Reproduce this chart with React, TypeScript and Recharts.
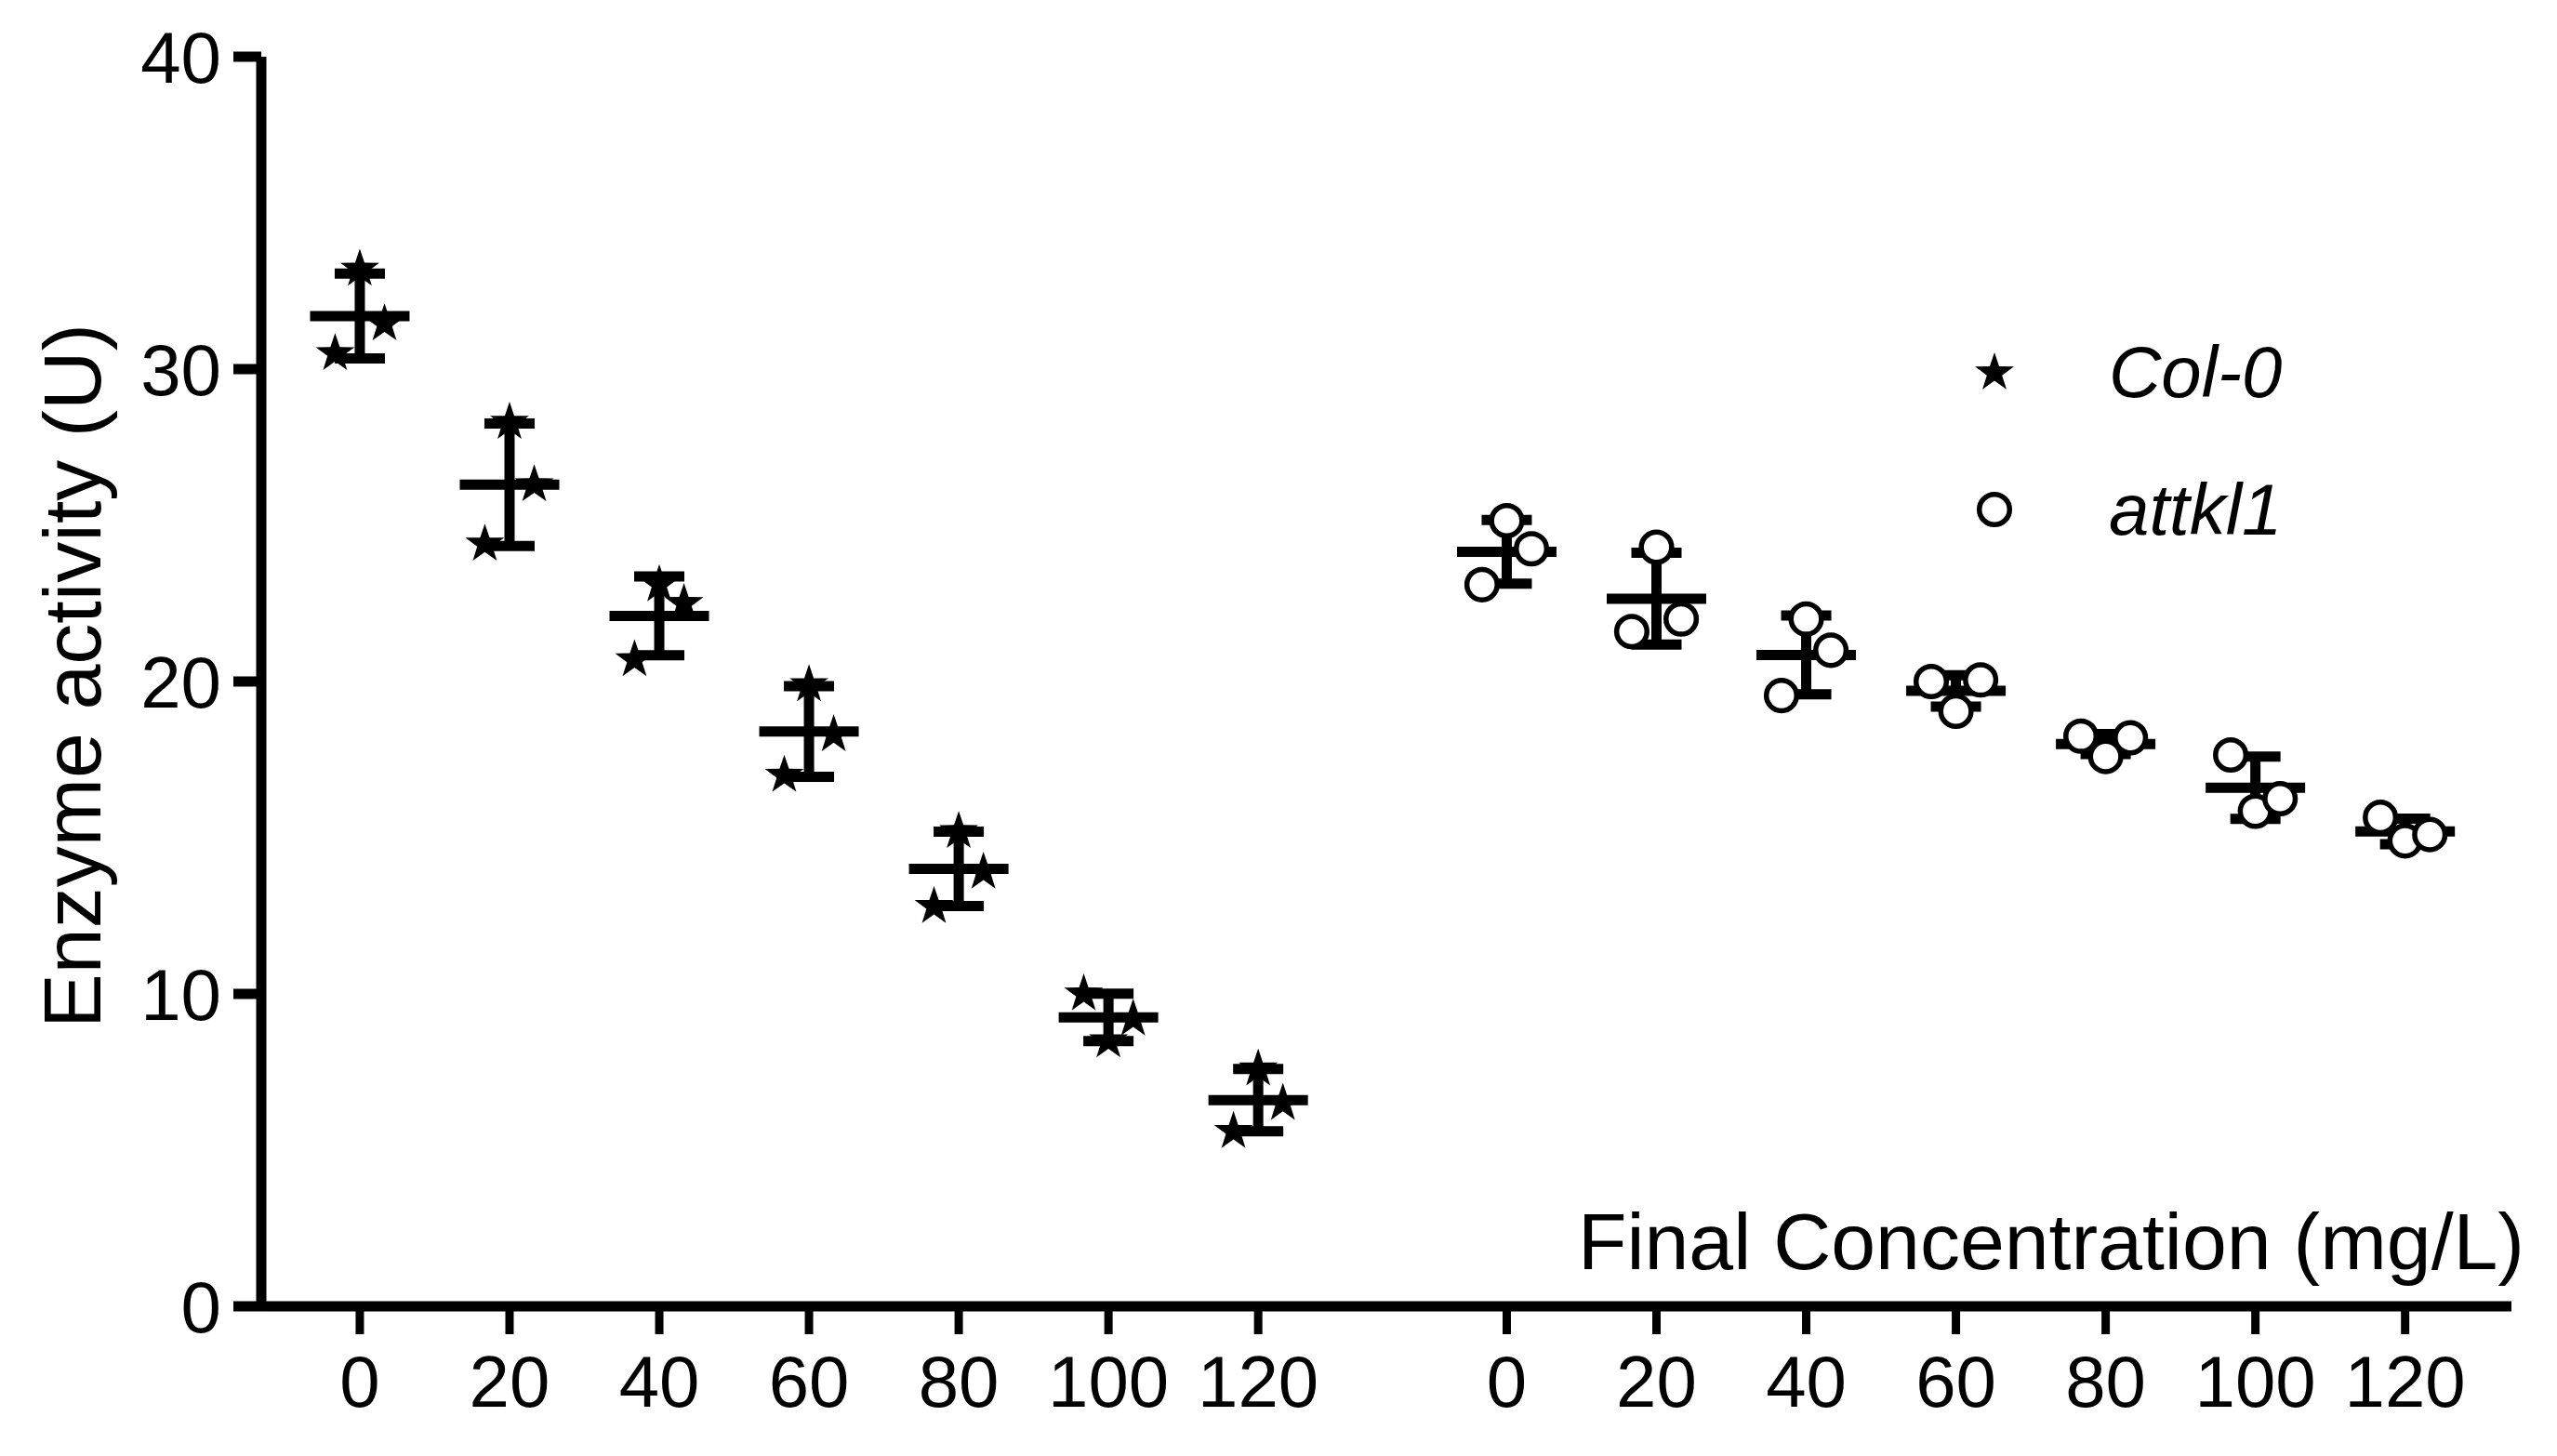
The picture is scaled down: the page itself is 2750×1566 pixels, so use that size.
import React from 'react';
import { ScatterChart, Scatter, XAxis, YAxis, ErrorBar, Legend, Label } from 'recharts';

// ---------- data ----------
const DOSES = ['0', '20', '40', '60', '80', '100', '120'];
const SERIES_NAMES = ['Col-0', 'attkl1'];
const Y_TICKS = [0, 10, 20, 30, 40];

// Col-0 replicates (centre / right / left point of each dot group)
const COL0_CENTER = [33.2, 28.3, 23.1, 19.9, 15.2, 8.5, 7.6];
const COL0_RIGHT = [31.45, 26.3, 22.5, 18.3, 13.9, 9.2, 6.5];
const COL0_LEFT = [30.5, 24.4, 20.7, 17.0, 12.8, 10.0, 5.6];
const COL0_MEAN = [31.7, 26.3, 22.1, 18.4, 14.0, 9.25, 6.6];
const COL0_SD = [1.36, 1.96, 1.26, 1.45, 1.19, 0.76, 1.0];

// attkl1 replicates
const ATTKL1_CENTER = [25.15, 24.3, 22.0, 19.05, 17.6, 15.85, 14.9];
const ATTKL1_RIGHT = [24.25, 22.0, 21.0, 20.05, 18.2, 16.25, 15.1];
const ATTKL1_LEFT = [23.1, 21.6, 19.55, 20.0, 18.25, 17.65, 15.65];
const ATTKL1_MEAN = [24.15, 22.65, 20.85, 19.7, 18.0, 16.6, 15.2];
const ATTKL1_SD = [1.02, 1.47, 1.26, 0.5, 0.32, 1.0, 0.41];

// ---------- layout constants ----------
const GROUP2_START = 7.66; // category position of the second group's first dose
const JITTER = 0.165; // horizontal spread of replicate dots (category units)
const X_DOMAIN = [-0.658, 14.37];
const FONT = '"Liberation Sans", Arial, Helvetica, sans-serif';

const POS1 = DOSES.map((_, i) => i);
const POS2 = DOSES.map((_, i) => GROUP2_START + i);
const X_TICKS = [...POS1, ...POS2];

const pointsOf = (pos: number[], c: number[], r: number[], l: number[]) =>
  pos.flatMap((p, i) => [
    { x: p, y: c[i] },
    { x: p + JITTER, y: r[i] },
    { x: p - JITTER, y: l[i] },
  ]);
const summaryOf = (pos: number[], m: number[], sd: number[]) =>
  pos.map((p, i) => ({ x: p, y: m[i], err: sd[i] }));

const col0Points = pointsOf(POS1, COL0_CENTER, COL0_RIGHT, COL0_LEFT);
const attkl1Points = pointsOf(POS2, ATTKL1_CENTER, ATTKL1_RIGHT, ATTKL1_LEFT);
const col0Summary = summaryOf(POS1, COL0_MEAN, COL0_SD);
const attkl1Summary = summaryOf(POS2, ATTKL1_MEAN, ATTKL1_SD);

const tickLabel = (v: number) => {
  const idx = X_TICKS.findIndex((t) => Math.abs(t - v) < 1e-6);
  return idx >= 0 ? DOSES[idx % DOSES.length] : '';
};

// ---------- shapes ----------
const starPath = (cx: number, cy: number, R: number, r: number) => {
  let d = '';
  for (let k = 0; k < 10; k++) {
    const rad = k % 2 === 0 ? R : r;
    const a = -Math.PI / 2 + (k * Math.PI) / 5;
    d += (k === 0 ? 'M' : 'L') + (cx + rad * Math.cos(a)).toFixed(2) + ',' + (cy + rad * Math.sin(a)).toFixed(2);
  }
  return d + 'Z';
};

const StarShape = (props: any) => {
  const { cx, cy } = props;
  if (cx == null || cy == null) return null;
  return <path d={starPath(cx, cy, 22, 8.6)} fill="#000" stroke="none" />;
};

const CircleShape = (props: any) => {
  const { cx, cy } = props;
  if (cx == null || cy == null) return null;
  return <circle cx={cx} cy={cy} r={16.3} fill="#fff" stroke="#000" strokeWidth={5.5} />;
};

const MeanShape = (props: any) => {
  const { cx, cy } = props;
  if (cx == null || cy == null) return null;
  return <line x1={cx - 53.5} x2={cx + 53.5} y1={cy} y2={cy} stroke="#000" strokeWidth={11} />;
};

const renderLegend = () => (
  <div style={{ fontFamily: FONT, fontSize: 78, fontStyle: 'italic', color: '#000' }}>
    {SERIES_NAMES.map((name, i) => (
      <div key={name} style={{ display: 'flex', alignItems: 'center', height: 148 }}>
        <svg width={60} height={60} style={{ display: 'block' }}>
          {i === 0 ? (
            <path d={starPath(30, 31, 22, 8.6)} fill="#000" />
          ) : (
            <circle cx={30} cy={30} r={16.3} fill="#fff" stroke="#000" strokeWidth={5.5} />
          )}
        </svg>
        <span style={{ marginLeft: 93, lineHeight: 'normal' }}>{name}</span>
      </div>
    ))}
  </div>
);

const YLabel = (props: any) => {
  const vb = props.viewBox || { x: 81, y: 61, width: 200, height: 1344 };
  const x = vb.x + 27;
  const y = vb.y + vb.height / 2 - 6;
  return (
    <text
      x={x}
      y={y}
      transform={`rotate(-90, ${x}, ${y})`}
      textAnchor="middle"
      fontFamily={FONT}
      fontSize={88}
      fill="#000"
    >
      Enzyme activity (U)
    </text>
  );
};

const XLabel = (props: any) => {
  const vb = props.viewBox || { x: 281, y: 1405, width: 2420, height: 150 };
  return (
    <text
      x={vb.x + vb.width + 14}
      y={vb.y - 40}
      textAnchor="end"
      fontFamily={FONT}
      fontSize={86}
      fill="#000"
    >
      Final Concentration (mg/L)
    </text>
  );
};

export default function App() {
  return (
    <div style={{ position: 'absolute', left: 0, top: 0, background: '#fff' }}>
      <ScatterChart
        width={2750}
        height={1566}
        margin={{ top: 61, right: 49, bottom: 11, left: 81 }}
      >
        <XAxis
          type="number"
          dataKey="x"
          domain={X_DOMAIN}
          allowDataOverflow
          ticks={X_TICKS}
          interval={0}
          tickFormatter={tickLabel}
          height={150}
          tickSize={30}
          tickMargin={23}
          axisLine={{ stroke: '#000', strokeWidth: 11 }}
          tickLine={{ stroke: '#000', strokeWidth: 9 }}
          tick={{ fill: '#000', fontSize: 78, fontFamily: FONT }}
        >
          <Label content={XLabel} />
        </XAxis>
        <YAxis
          type="number"
          dataKey="y"
          domain={[0, 40]}
          allowDataOverflow
          ticks={Y_TICKS}
          interval={0}
          width={200}
          tickSize={30}
          tickMargin={13}
          axisLine={{ stroke: '#000', strokeWidth: 11 }}
          tickLine={{ stroke: '#000', strokeWidth: 11 }}
          tick={{ fill: '#000', fontSize: 78, fontFamily: FONT }}
        >
          <Label content={YLabel} />
        </YAxis>
        <Legend
          content={renderLegend}
          layout="horizontal"
          align="center"
          verticalAlign="middle"
          wrapperStyle={{ left: 2115, top: 326, width: 420 }}
        />
        <Scatter
          name="Col-0 mean"
          data={col0Summary}
          shape={MeanShape}
          isAnimationActive={false}
          legendType="none"
        >
          <ErrorBar dataKey="err" direction="y" width={27} stroke="#000" strokeWidth={11} isAnimationActive={false} />
        </Scatter>
        <Scatter
          name="attkl1 mean"
          data={attkl1Summary}
          shape={MeanShape}
          isAnimationActive={false}
          legendType="none"
        >
          <ErrorBar dataKey="err" direction="y" width={27} stroke="#000" strokeWidth={11} isAnimationActive={false} />
        </Scatter>
        <Scatter name="Col-0" data={col0Points} shape={StarShape} isAnimationActive={false} />
        <Scatter name="attkl1" data={attkl1Points} shape={CircleShape} isAnimationActive={false} />
      </ScatterChart>
    </div>
  );
}
